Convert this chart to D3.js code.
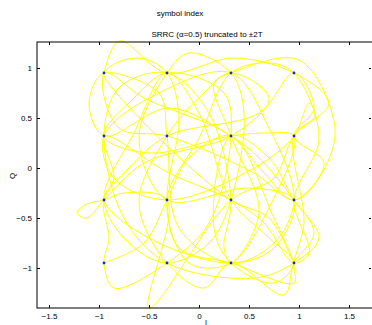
<!DOCTYPE html>
<html>
<head>
<meta charset="utf-8">
<script src="https://cdn.jsdelivr.net/npm/d3@7"></script>
<style>
  body { margin: 0; background: #fff; }
  text { font-family: "Liberation Sans", Arial, sans-serif; fill: #000; }
</style>
</head>
<body>
<div id="chart"></div>
<script>
// 16-QAM constellation levels (same on I and Q)
const levels = [-0.95, -0.32, 0.32, 0.95];

// filtered trajectory samples
const traceI = [
  -0.95, -0.80, -0.32, 0.35, 0.95, 1.30, 0.95, 0.75, 0.32, -0.50,
  -0.32, -0.75, -0.95, -1.12, -1.22, -1.12, -0.95, -0.55, 0.32, 0.70,
  0.32, 0.05, -0.32, -0.60, -0.32, 0.05, 0.32, 0.85, 0.95, 1.15,
  0.95, 0.60, 0.32, -0.30, -0.95, -1.10, -0.95, -0.55, 0.32, 0.65,
  0.95, 1.25, 0.95, 1.15, 0.95, 0.60, -0.32, -0.70, -0.95, -0.90,
  -0.95, -0.85, -0.32, 0.10, 0.32, 0.25, -0.32, -0.65, -0.95, -0.50,
  0.32, 0.70, 0.95, 0.70, 0.32, -0.10, -0.32, 0.00, 0.32, 0.70,
  0.95, 1.20, 0.95, 1.10, 0.95, 0.65, 0.32, -0.30, -0.95, -0.85,
  -0.95, -0.50, 0.32, 0.75, 0.95, 0.50, -0.32, -0.60, -0.32, -0.10,
  0.32, 0.45, 0.32, 0.10, -0.32, -0.70, -0.95, -0.65, -0.32, 0.00,
  0.32, 0.70, 0.95, 0.75, 0.32, 0.15, 0.32, 0.70, 0.95, 1.20,
  0.95, 0.55, -0.32, -0.75, -0.95, -0.80, -0.32, 0.10, 0.32, 0.25,
  0.32, 0.60, 0.32, 0.15, 0.32, 1.00, 1.36, 1.20, 0.95, 0.55,
  -0.32, -0.80, -0.95, -0.60, -0.32, -0.20, -0.32, -0.20, 0.32, 0.95,
  0.95, 1.05, 0.95, 1.16, 1.10, 0.95, 0.55, -0.32, -0.85, -0.95,
  -0.40, 0.32, 0.70, 0.95, 0.75, 0.32, -0.20, -0.32, -0.40, -0.95,
  -0.55, 0.32, 0.70, 0.95, 0.75, 0.32, -0.10, -0.32, -0.55, -0.95
];
const traceQ = [
  0.95, 1.27, 0.95, 1.10, 0.95, 0.65, 0.32, -0.10, -0.32, -1.40,
  -0.32, -0.25, -0.32, -0.36, -0.45, -0.50, -0.32, 0.05, 0.32, 0.70,
  0.95, 0.75, 0.32, -0.35, -0.95, -1.20, -0.95, -1.27, -0.95, -0.65,
  -0.32, 0.10, 0.32, 0.60, 0.32, 0.65, 0.95, 0.70, 0.32, -0.05,
  -0.32, 0.05, 0.32, 0.60, 0.95, 0.55, 0.32, 0.00, -0.32, -0.70,
  -0.95, -1.20, -0.95, -0.55, 0.32, 0.75, 0.95, 0.70, 0.32, 0.15,
  0.32, 0.35, 0.32, -0.40, -0.95, -0.95, -0.32, 0.30, 0.95, 1.05,
  0.95, 0.30, -0.32, -0.85, -0.95, -0.55, -0.32, -0.05, 0.32, -0.10,
  -0.32, -0.70, -0.95, -0.80, -0.32, -0.20, -0.32, 0.30, 0.95, 1.15,
  0.95, 0.55, -0.32, -0.75, -0.95, -0.75, -0.32, 0.35, 0.95, 0.55,
  -0.32, -0.70, -0.95, -1.15, -0.95, -0.60, 0.32, 0.10, -0.32, -0.70,
  -0.95, -1.10, -0.95, -0.50, 0.32, 0.80, 0.95, 0.55, -0.32, -0.80,
  -0.95, -0.45, 0.32, 0.85, 0.95, 1.08, 0.40, -0.10, -0.32, -0.05,
  0.32, 0.40, 0.95, 1.10, 0.95, 0.50, -0.32, -0.80, -0.95, -1.15,
  -0.95, -0.55, 0.32, 0.52, 0.65, 0.32, 0.00, -0.32, -0.10, 0.32,
  0.75, 0.95, 0.40, -0.32, -0.75, -0.95, -0.60, 0.32, 0.75, 0.95,
  0.45, -0.32, -0.50, -0.95, -0.50, 0.32, 0.10, -0.32, -0.75, -0.95
];

const xTicks = [-1.5, -1, -0.5, 0, 0.5, 1, 1.5];
const yTicks = [-1, -0.5, 0, 0.5, 1];

const W = 372, H = 325;
const box = { left: 37, right: 373, top: 42, bottom: 308 };

const svg = d3.select("#chart").append("svg")
  .attr("width", W).attr("height", H);

const x = d3.scaleLinear().domain([-1.62, 1.74]).range([box.left, box.right]);
const y = d3.scaleLinear().domain([-1.40, 1.26]).range([box.bottom, box.top]);

const fmt = (d) => String(d).replace("-", "\u2212");

// trajectory
const pts = traceI.map((v, i) => [v, traceQ[i]]);
const line = d3.line()
  .curve(d3.curveCatmullRom.alpha(0.5))
  .x((d) => x(d[0]))
  .y((d) => y(d[1]));

svg.append("path")
  .datum(pts)
  .attr("fill", "none")
  .attr("stroke", "#ffff00")
  .attr("stroke-width", 1)
  .attr("d", line);

// constellation points
const grid = levels.flatMap((i) => levels.map((q) => [i, q]));
svg.append("g").selectAll("circle")
  .data(grid)
  .enter()
  .append("circle")
  .attr("cx", (d) => x(d[0]))
  .attr("cy", (d) => y(d[1]))
  .attr("r", 1.4)
  .attr("fill", "#0a2ee0");

// axes box with inward ticks
const axB = svg.append("g").attr("transform", `translate(0,${box.bottom})`)
  .call(d3.axisBottom(x).tickValues(xTicks).tickSizeInner(-3).tickSizeOuter(0).tickPadding(5).tickFormat(fmt));
const axT = svg.append("g").attr("transform", `translate(0,${box.top})`)
  .call(d3.axisTop(x).tickValues(xTicks).tickSizeInner(-3).tickSizeOuter(0).tickFormat(""));
const axL = svg.append("g").attr("transform", `translate(${box.left},0)`)
  .call(d3.axisLeft(y).tickValues(yTicks).tickSizeInner(-3).tickSizeOuter(0).tickPadding(5).tickFormat(fmt));
const axR = svg.append("g").attr("transform", `translate(${box.right - 2},0)`)
  .call(d3.axisRight(y).tickValues(yTicks).tickSizeInner(-2).tickSizeOuter(0).tickFormat(""));

[axB, axT, axL, axR].forEach((g) => {
  g.select(".domain").remove();
  g.selectAll("line").attr("stroke", "#000");
  g.selectAll("text").attr("font-size", 8).attr("font-family", "Liberation Sans, Arial, sans-serif");
});

svg.append("rect")
  .attr("x", box.left).attr("y", box.top)
  .attr("width", box.right - box.left).attr("height", box.bottom - box.top)
  .attr("fill", "none").attr("stroke", "#000").attr("stroke-width", 1);

// labels
svg.append("text").attr("x", 180).attr("y", 16).attr("text-anchor", "middle")
  .attr("font-size", 8).text("symbol index");
svg.append("text").attr("x", 207).attr("y", 37).attr("text-anchor", "middle")
  .attr("font-size", 8).text("SRRC (\u03b1=0.5) truncated to \u00b12T");
svg.append("text").attr("x", 206).attr("y", 325).attr("text-anchor", "middle")
  .attr("font-size", 7).text("I");
svg.append("text").attr("transform", "translate(15,176) rotate(-90)")
  .attr("text-anchor", "middle").attr("font-size", 8).text("Q");
</script>
</body>
</html>
